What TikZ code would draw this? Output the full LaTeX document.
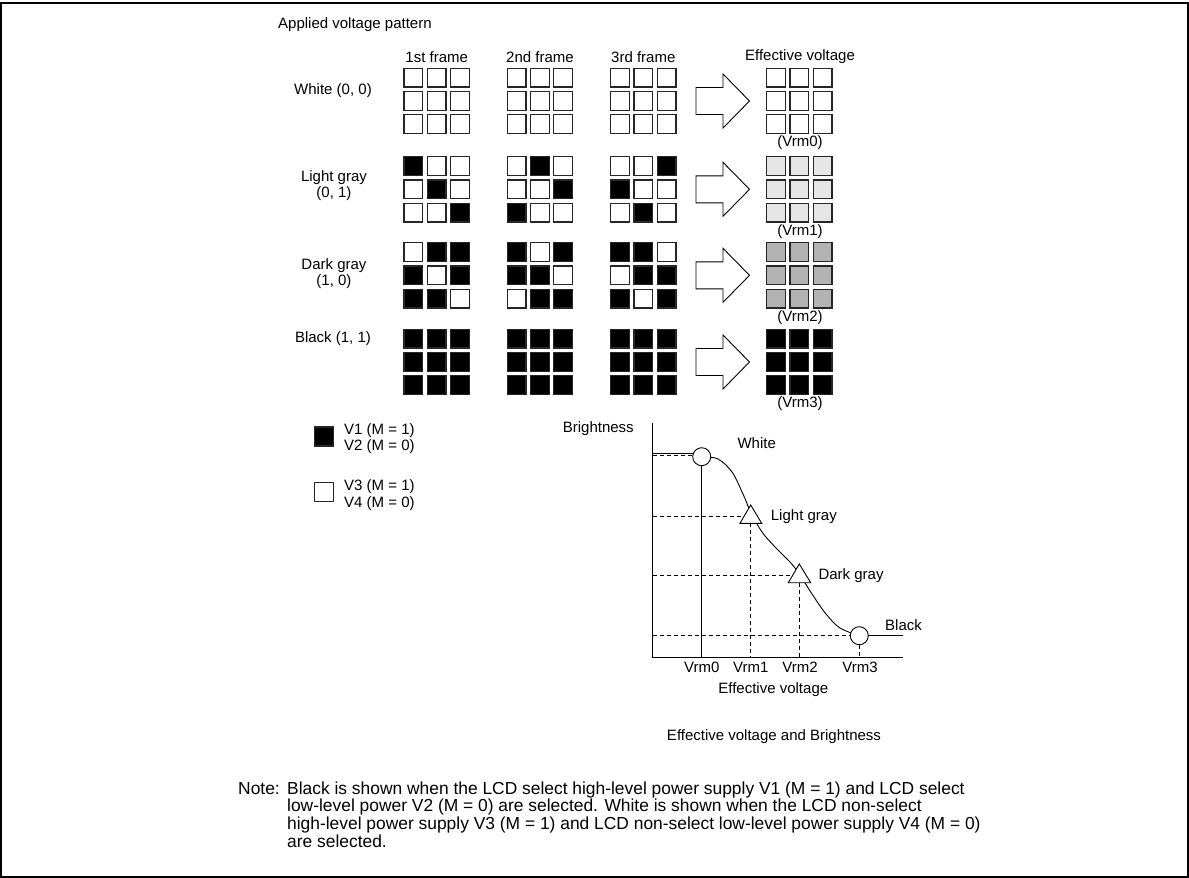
\documentclass[tikz,border=0pt]{standalone}
\usepackage{fontspec}
\setmainfont{Liberation Sans}
\definecolor{lgt}{HTML}{E6E6E6}
\definecolor{drk}{HTML}{B3B3B3}
\newcommand\pixgrid[3]{%
  \foreach \f [count=\i from 0] in {#3}{%
    \pgfmathsetmacro\cx{#1+mod(\i,3)*23.3}%
    \pgfmathsetmacro\cy{#2+floor(\i/3)*23.3}%
    \draw[cellbox, fill=\f] (\cx,\cy) rectangle ++(18.7,18.7);
  }}
\newcommand\fatarrow[1]{%
  \draw[bigarrow] (696,#1-13.5) -- (723,#1-13.5) -- (723,#1-27) -- (749.5,#1)
    -- (723,#1+27) -- (723,#1+13.5) -- (696,#1+13.5) -- cycle;}
\begin{document}
\begin{tikzpicture}[x=1pt,y=-1pt,
  lbl/.style={inner sep=0pt, font=\fontsize{15}{16}\selectfont, align=center},
  notetxt/.style={inner sep=0pt, anchor=base west, font=\fontsize{17.4}{18}\selectfont},
  cellbox/.style={draw=black!85, line width=1.1pt},
  bigarrow/.style={draw=black, line width=0.9pt, fill=white},
  axisline/.style={draw=black, line width=1pt},
  guide/.style={draw=black, line width=0.9pt, dash pattern=on 4pt off 3pt},
  marker/.style={draw=black, line width=0.9pt, fill=white}]
\useasboundingbox (0,0) rectangle (1189,878);
\draw[line width=2pt] (1.2,2.5) rectangle (1188,877);

% headings
\node[lbl, anchor=west] (title) at (278,25) {Applied voltage pattern};
\node[lbl] (f1) at (436.7,57) {1st frame};
\node[lbl] (f2) at (540,57) {2nd frame};
\node[lbl] (f3) at (643.3,57) {3rd frame};
\node[lbl] (fe) at (800,57) {Effective voltage};

% row labels
\node[lbl] (rw) at (333,90.7) {White (0, 0)};
\node[lbl] (rl) at (334,185.3) {Light gray\\(0, 1)};
\node[lbl] (rd) at (334,273.3) {Dark gray\\(1, 0)};
\node[lbl] (rb) at (333,338.3) {Black (1, 1)};

% white row
\pixgrid{404}{68.3}{white,white,white,white,white,white,white,white,white}
\pixgrid{507.3}{68.3}{white,white,white,white,white,white,white,white,white}
\pixgrid{610.7}{68.3}{white,white,white,white,white,white,white,white,white}
\pixgrid{766.7}{68.3}{white,white,white,white,white,white,white,white,white}
\fatarrow{101}
\node[lbl] (v0) at (800,143) {(Vrm0)};

% light gray row
\pixgrid{404}{156.7}{black,white,white,white,black,white,white,white,black}
\pixgrid{507.3}{156.7}{white,black,white,white,white,black,black,white,white}
\pixgrid{610.7}{156.7}{white,white,black,black,white,white,white,black,white}
\pixgrid{766.7}{156.7}{lgt,lgt,lgt,lgt,lgt,lgt,lgt,lgt,lgt}
\fatarrow{189.3}
\node[lbl] (v1) at (800,231.5) {(Vrm1)};

% dark gray row
\pixgrid{404}{242.7}{white,black,black,black,white,black,black,black,white}
\pixgrid{507.3}{242.7}{black,white,black,black,black,white,white,black,black}
\pixgrid{610.7}{242.7}{black,black,white,white,black,black,black,white,black}
\pixgrid{766.7}{242.7}{drk,drk,drk,drk,drk,drk,drk,drk,drk}
\fatarrow{275.3}
\node[lbl] (v2) at (800,317.5) {(Vrm2)};

% black row
\pixgrid{404}{329.3}{black,black,black,black,black,black,black,black,black}
\pixgrid{507.3}{329.3}{black,black,black,black,black,black,black,black,black}
\pixgrid{610.7}{329.3}{black,black,black,black,black,black,black,black,black}
\pixgrid{766.7}{329.3}{black,black,black,black,black,black,black,black,black}
\fatarrow{362}
\node[lbl] (v3) at (800,404) {(Vrm3)};

% legend
\draw[cellbox, fill=black] (314.3,427) rectangle ++(19,19);
\draw[cellbox, fill=white] (314.3,482.7) rectangle ++(19,19);
\node[lbl, anchor=west] (l1) at (344,430.7) {V1 (M = 1)};
\node[lbl, anchor=west] (l2) at (344,446.7) {V2 (M = 0)};
\node[lbl, anchor=west] (l3) at (344,486.7) {V3 (M = 1)};
\node[lbl, anchor=west] (l4) at (344,503.3) {V4 (M = 0)};

% graph
\coordinate (ytop) at (652.7,423.3);
\coordinate (org) at (652.7,657.3);
\coordinate (xend) at (902.7,657.3);
\draw[axisline] (ytop) -- (org) -- (xend);
\node[lbl] (bright) at (598.3,428.3) {Brightness};
\node[lbl] (effv) at (773.3,689.3) {Effective voltage};

% curve
\draw[line width=0.9pt] (652.7,453.3) -- (701.7,453.3);
\draw[line width=0.9pt] plot[smooth, tension=0.55] coordinates
  {(701.7,456.7) (718,459) (732,472) (743,494) (750.7,512) (762,532)
   (776,548) (790,562) (799.3,574) (812,594) (826,614) (840,628) (859.3,635.7)};
\draw[line width=0.9pt] (859.3,635.7) -- (xend |- 859.3,635.7);

% guides
\draw[guide] (652.7,455.5) -- (693,455.5);
\draw[guide] (652.7,516) -- (744,516);
\draw[guide] (652.7,575.7) -- (792,575.7);
\draw[guide] (652.7,635.7) -- (851,635.7);
\draw[guide] (750.7,523.3) -- (750.7,657.3);
\draw[guide] (799.3,582.7) -- (799.3,657.3);
\draw[guide] (859.3,645) -- (859.3,657.3);

% markers
\node[marker, circle, minimum size=18pt, inner sep=0pt] (mw) at (701.7,456.7) {};
\draw[line width=0.9pt] (mw.south) -- (mw.south |- org);
\draw[marker] (740,523.3) -- (750.7,505) -- (761.7,523.3) -- cycle;
\draw[marker] (788.3,582.7) -- (799.3,564) -- (810.7,582.7) -- cycle;
\node[marker, circle, minimum size=18pt, inner sep=0pt] (mb) at (859.3,635.7) {};

\node[lbl] (tw) at (756.7,443.3) {White};
\node[lbl, anchor=west] (tl) at (770.7,516.7) {Light gray};
\node[lbl, anchor=west] (td) at (818.3,575.7) {Dark gray};
\node[lbl, anchor=west] (tb) at (885,625) {Black};

\node[lbl] (x0) at (701.7,667.3) {Vrm0};
\node[lbl] (x1) at (750.7,667.3) {Vrm1};
\node[lbl] (x2) at (800,667.3) {Vrm2};
\node[lbl] (x3) at (860,667.3) {Vrm3};

\node[lbl] (cap) at (774,736.7) {Effective voltage and Brightness};

% note
\node[notetxt] (nt) at (238,794) {Note:};
\node[notetxt] (n1) at (287,794) {Black is shown when the LCD select high-level power supply V1 (M = 1) and LCD select};
\node[notetxt] (n2) at (287,811.7) {low-level power V2 (M = 0) are selected. White is shown when the LCD non-select};
\node[notetxt] (n3) at (287,829.4) {high-level power supply V3 (M = 1) and LCD non-select low-level power supply V4 (M = 0)};
\node[notetxt] (n4) at (287,847.1) {are selected.};
\end{tikzpicture}
\end{document}
